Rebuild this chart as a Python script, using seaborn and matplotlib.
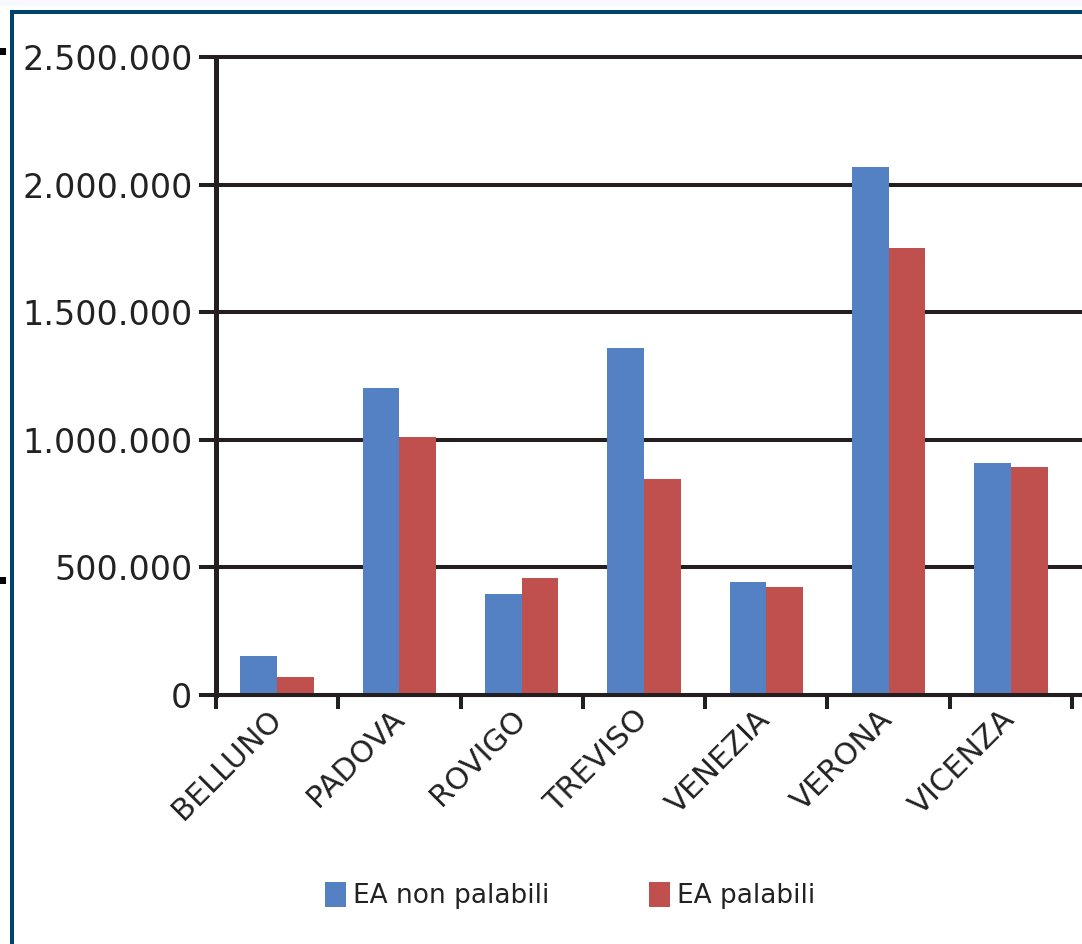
import numpy as np
import pandas as pd
import matplotlib
matplotlib.use("Agg")
import matplotlib.pyplot as plt
import matplotlib.ticker as mticker
from matplotlib.patches import Rectangle
from matplotlib.transforms import ScaledTranslation
import seaborn as sns

# Province data (number of "EA" units)
provinces = ["BELLUNO", "PADOVA", "ROVIGO", "TREVISO", "VENEZIA", "VERONA", "VICENZA"]
non_palabili = [152000, 1202000, 393000, 1359000, 440000, 2069000, 908000]
palabili = [70000, 1009000, 457000, 847000, 424000, 1750000, 893000]
series_names = ["EA non palabili", "EA palabili"]
y_ticks = [0, 500000, 1000000, 1500000, 2000000, 2500000]

BLUE = "#5381C3"
RED = "#C0504D"
INK = "#231F20"
NAVY = "#00436F"

sns.set_style("white")
plt.rcParams["font.family"] = ["DejaVu Sans"]

df = pd.DataFrame({
    "provincia": provinces * 2,
    "serie": [series_names[0]] * len(provinces) + [series_names[1]] * len(provinces),
    "valore": non_palabili + palabili,
})

W, H = 1082, 944
fig = plt.figure(figsize=(W / 100, H / 100), dpi=100)
fig.patch.set_facecolor("white")


def fx(px):
    return px / W


def fy(py):
    return 1 - py / H


ax = fig.add_axes([fx(216), fy(694.7), fx(1082) - fx(216), fy(57) - fy(694.7)])

sns.barplot(data=df, x="provincia", y="valore", hue="serie", order=provinces,
            hue_order=series_names, palette=[BLUE, RED], width=0.6,
            saturation=1, gap=0, linewidth=0, ax=ax)

ax.set_xlim(-0.5, 6.5 + 10 / 122.3)
ax.set_ylim(0, 2500000)
ax.set_xlabel("")
ax.set_ylabel("")

# Horizontal gridlines behind the bars
ax.set_axisbelow(True)
ax.yaxis.grid(True, color=INK, linewidth=2.9)
ax.xaxis.grid(False)

for side in ["top", "right"]:
    ax.spines[side].set_visible(False)
ax.spines["left"].set_color(INK)
ax.spines["left"].set_linewidth(3.6)
ax.spines["bottom"].set_color(INK)
ax.spines["bottom"].set_linewidth(2.9)

ax.set_yticks(y_ticks)
ax.yaxis.set_major_formatter(mticker.FuncFormatter(lambda v, p: f"{int(v):,}".replace(",", ".")))
ax.tick_params(axis="y", which="major", left=True, length=12.5, width=2.9, color=INK,
               pad=4.5, labelsize=24, labelcolor="#222222")
for gl in ax.get_ygridlines():
    gl.set_clip_on(False)

# Category labels at centres, tick marks at category boundaries
ax.set_xticks(range(len(provinces)))
ax.set_xticklabels(provinces, rotation=45, ha="right", fontsize=22, color="#222222")
ax.set_xticks(np.arange(-0.5, len(provinces) + 0.5, 1.0), minor=True)
ax.tick_params(axis="x", which="major", bottom=True, length=0, pad=7)
ax.tick_params(axis="x", which="minor", bottom=True, length=10, width=2.9, color=INK)
shift = ScaledTranslation(0.10, 0, fig.dpi_scale_trans)
for lbl in ax.get_xticklabels():
    lbl.set_transform(lbl.get_transform() + shift)

# Legend along the bottom
handles, labels = ax.get_legend_handles_labels()
if ax.get_legend() is not None:
    ax.get_legend().remove()
leg_fs = 19
fig.legend(handles, labels, loc="center left",
           bbox_to_anchor=(fx(325), fy(895.5)), bbox_transform=fig.transFigure,
           ncol=2, frameon=False, fontsize=leg_fs, borderpad=0, borderaxespad=0,
           handlelength=21 / (leg_fs * 100 / 72), handleheight=29 / (leg_fs * 100 / 72),
           handletextpad=0.25, columnspacing=3.8, labelcolor="#222222")

# Frame around the chart area
fig.add_artist(Rectangle((fx(0), fy(6)), 1, 6 / H, transform=fig.transFigure,
                         facecolor="#F8F9FE", edgecolor="none"))
fig.add_artist(Rectangle((fx(10), fy(14)), 1, 4 / H, transform=fig.transFigure,
                         facecolor=NAVY, edgecolor="none"))
fig.add_artist(Rectangle((fx(10), 0), 4 / W, fy(10), transform=fig.transFigure,
                         facecolor=NAVY, edgecolor="none"))
for top in (48, 577):
    fig.add_artist(Rectangle((0, fy(top + 7)), 6 / W, 7 / H, transform=fig.transFigure,
                             facecolor="black", edgecolor="none"))

fig.savefig("out.png", dpi=100, facecolor="white")
